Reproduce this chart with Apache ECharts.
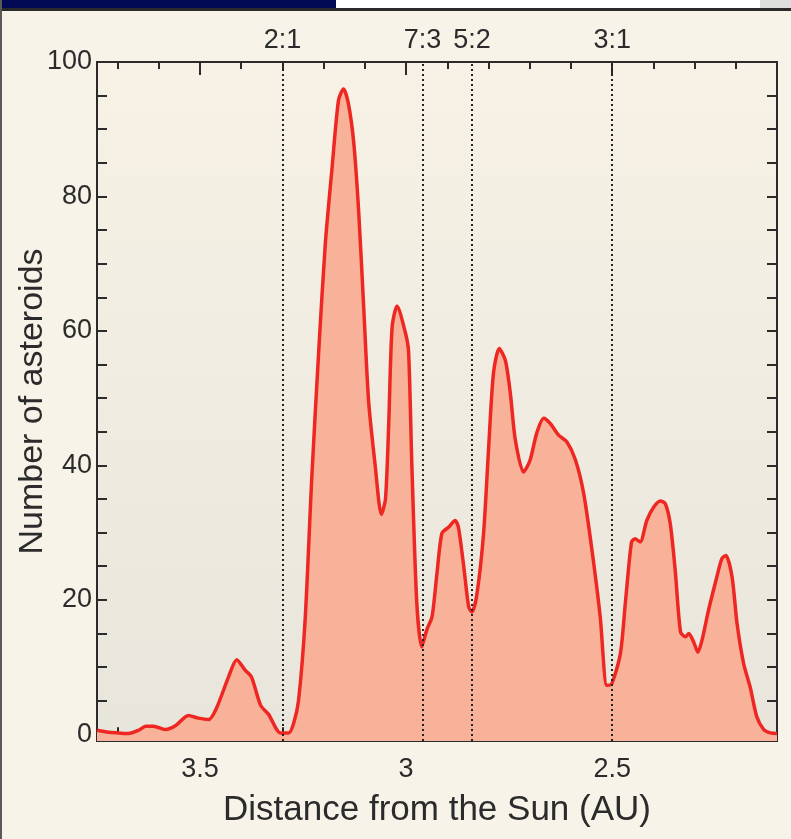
<!DOCTYPE html>
<html>
<head>
<meta charset="utf-8">
<title>Asteroids vs distance from the Sun</title>
<script src="https://cdn.jsdelivr.net/npm/echarts@6/dist/echarts.min.js"></script>
<style>
  html, body { margin: 0; padding: 0; background: #f7f3e8; }
  #chart { width: 791px; height: 839px; }
</style>
</head>
<body>
<div id="chart"></div>
<script>
// distance from the Sun (AU) left to right
const distanceAU = [
  3.75, 3.722, 3.698, 3.674, 3.649, 3.632, 3.613, 3.584, 3.559, 3.528,
  3.504, 3.479, 3.460, 3.431, 3.411, 3.390, 3.375, 3.353, 3.334, 3.305,
  3.285, 3.273, 3.261, 3.245, 3.229, 3.212, 3.196, 3.180, 3.164, 3.152,
  3.140, 3.127, 3.115, 3.103, 3.091, 3.075, 3.060, 3.050, 3.042, 3.034,
  3.022, 3.002, 2.994, 2.986, 2.974, 2.962, 2.950, 2.937, 2.925, 2.913,
  2.897, 2.881, 2.873, 2.860, 2.848, 2.840, 2.828, 2.812, 2.800, 2.788,
  2.774, 2.759, 2.747, 2.735, 2.715, 2.699, 2.683, 2.666, 2.650, 2.630,
  2.610, 2.589, 2.569, 2.549, 2.529, 2.513, 2.501, 2.480, 2.468, 2.453,
  2.444, 2.432, 2.416, 2.399, 2.383, 2.371, 2.359, 2.347, 2.334, 2.322,
  2.314, 2.302, 2.292, 2.282, 2.266, 2.246, 2.234, 2.224, 2.209, 2.197,
  2.181, 2.165, 2.149, 2.132, 2.116, 2.10
];
// number of asteroids at each distance
const asteroidCount = [
  0.6, 0.3, 0.2, 0.1, 0.6, 1.2, 1.2, 0.7, 1.3, 2.8,
  2.4, 2.2, 3.9, 8.5, 11.1, 9.5, 8.5, 4.3, 3.0, 0.2,
  0.2, 1.6, 5.0, 17, 38, 57, 73, 84, 94.3, 96,
  93.8, 88, 77.7, 63.7, 49.6, 40, 32.7, 35, 46.4, 60.5,
  63.7, 59.8, 57, 40, 19.5, 13, 15.5, 17.5, 24, 29.9,
  30.8, 31.8, 30.8, 24.9, 18.9, 18.2, 20.9, 29.9, 42.3, 53.7,
  57.4, 55.6, 50.7, 43.8, 39, 40.8, 44.8, 47, 46.2, 44.5,
  43.5, 40.8, 35.8, 27.4, 17.5, 7.3, 7.5, 12, 19.5, 28.6,
  29.1, 28.6, 31.8, 33.8, 34.7, 34.3, 31.3, 24.4, 15.2, 14.5,
  15, 13.7, 12.2, 14, 18.5, 23.4, 26.1, 26.6, 23.4, 16.5,
  10.5, 7, 2.6, 0.7, 0.2, 0.1
];

// Kirkwood gaps (orbital resonances with Jupiter)
const resonanceLabels = ['2:1', '7:3', '5:2', '3:1'];
const resonanceAU = [3.30, 2.962, 2.841, 2.50];

const xLabelValues = [3.5, 3, 2.5];
const xMinorTicks = [3.7, 3.6, 3.4, 3.3, 3.2, 3.1, 2.9, 2.8, 2.7, 2.6, 2.4, 2.3, 2.2];
const yLabelValues = [0, 20, 40, 60, 80, 100];
const yTicks = [0, 5, 10, 15, 20, 25, 30, 35, 40, 45, 50, 55, 60, 65, 70, 75, 80, 85, 90, 95, 100];

const chart = echarts.init(document.getElementById('chart'));

const font = "'Liberation Sans', Arial, Helvetica, sans-serif";
const ink = '#2b2b2b';

function xAxisDef(pos, showLabel, ticks, len) {
  return {
    type: 'value',
    position: pos,
    min: 2.1,
    max: 3.75,
    inverse: true,
    axisLine: { show: false },
    splitLine: { show: false },
    axisTick: {
      inside: true,
      length: len,
      customValues: ticks,
      lineStyle: { color: ink, width: 2 }
    },
    axisLabel: {
      show: showLabel,
      customValues: xLabelValues,
      margin: 15,
      color: ink,
      fontSize: 27,
      fontFamily: font
    }
  };
}

function yAxisDef(pos, showLabel) {
  return {
    type: 'value',
    position: pos,
    min: -1,
    max: 100,
    axisLine: { show: false },
    splitLine: { show: false },
    axisTick: {
      inside: true,
      length: 10,
      customValues: yTicks,
      lineStyle: { color: ink, width: 2 }
    },
    axisLabel: {
      show: showLabel,
      customValues: yLabelValues,
      margin: 5,
      color: ink,
      fontSize: 27,
      fontFamily: font
    }
  };
}

const xBottom = xAxisDef('bottom', true, xLabelValues, 13);
xBottom.name = 'Distance from the Sun (AU)';
xBottom.nameLocation = 'middle';
xBottom.nameGap = 52;
xBottom.nameMoveOverlap = false;
xBottom.nameTextStyle = { color: ink, fontSize: 35, fontFamily: font };

const yLeft = yAxisDef('left', true);
yLeft.name = 'Number of asteroids';
yLeft.nameLocation = 'middle';
yLeft.nameGap = 47;
yLeft.nameMoveOverlap = false;
yLeft.nameTextStyle = { color: ink, fontSize: 34, fontFamily: font };

const option = {
  backgroundColor: '#f7f3e8',
  animation: false,
  graphic: [
    { type: 'rect', shape: { x: 0, y: 0, width: 336, height: 8 }, style: { fill: '#020a55' } },
    { type: 'rect', shape: { x: 336, y: 0, width: 455, height: 8 }, style: { fill: '#ffffff' } },
    { type: 'rect', shape: { x: 760, y: 0, width: 31, height: 8 }, style: { fill: '#dedede' } },
    { type: 'rect', shape: { x: 0, y: 8, width: 791, height: 3 }, style: { fill: '#2a2a2a' } },
    { type: 'rect', shape: { x: 0, y: 0, width: 2, height: 839 }, style: { fill: '#5a5a5a' } }
  ],
  grid: {
    left: 97,
    right: 14,
    top: 62,
    bottom: 98,
    outerBoundsMode: 'none',
    show: true,
    borderColor: ink,
    borderWidth: 2,
    backgroundColor: new echarts.graphic.LinearGradient(0, 0, 0, 1, [
      { offset: 0, color: '#f7f2e5' },
      { offset: 1, color: '#e8e5dc' }
    ])
  },
  xAxis: [
    xBottom,
    xAxisDef('bottom', false, xMinorTicks, 7),
    xAxisDef('top', false, xLabelValues, 13),
    xAxisDef('top', false, xMinorTicks, 7)
  ],
  yAxis: [
    yLeft,
    yAxisDef('right', false)
  ],
  series: [
    {
      type: 'line',
      xAxisIndex: 0,
      yAxisIndex: 0,
      data: distanceAU.map((d, i) => [d, asteroidCount[i]]),
      smooth: 0.25,
      showSymbol: false,
      lineStyle: { color: '#ee2722', width: 3.5 },
      areaStyle: { color: '#f8b29a', opacity: 1, origin: 'start' },
      markLine: {
        silent: true,
        symbol: ['none', 'none'],
        lineStyle: { color: '#222', type: [2, 3], width: 2 },
        label: {
          position: 'end',
          distance: 8,
          color: ink,
          fontSize: 27,
          fontFamily: font,
          formatter: p => p.name
        },
        data: resonanceAU.map((a, i) => ({ name: resonanceLabels[i], xAxis: a }))
      },
      z: 2
    }
  ]
};

chart.setOption(option);
</script>
</body>
</html>
